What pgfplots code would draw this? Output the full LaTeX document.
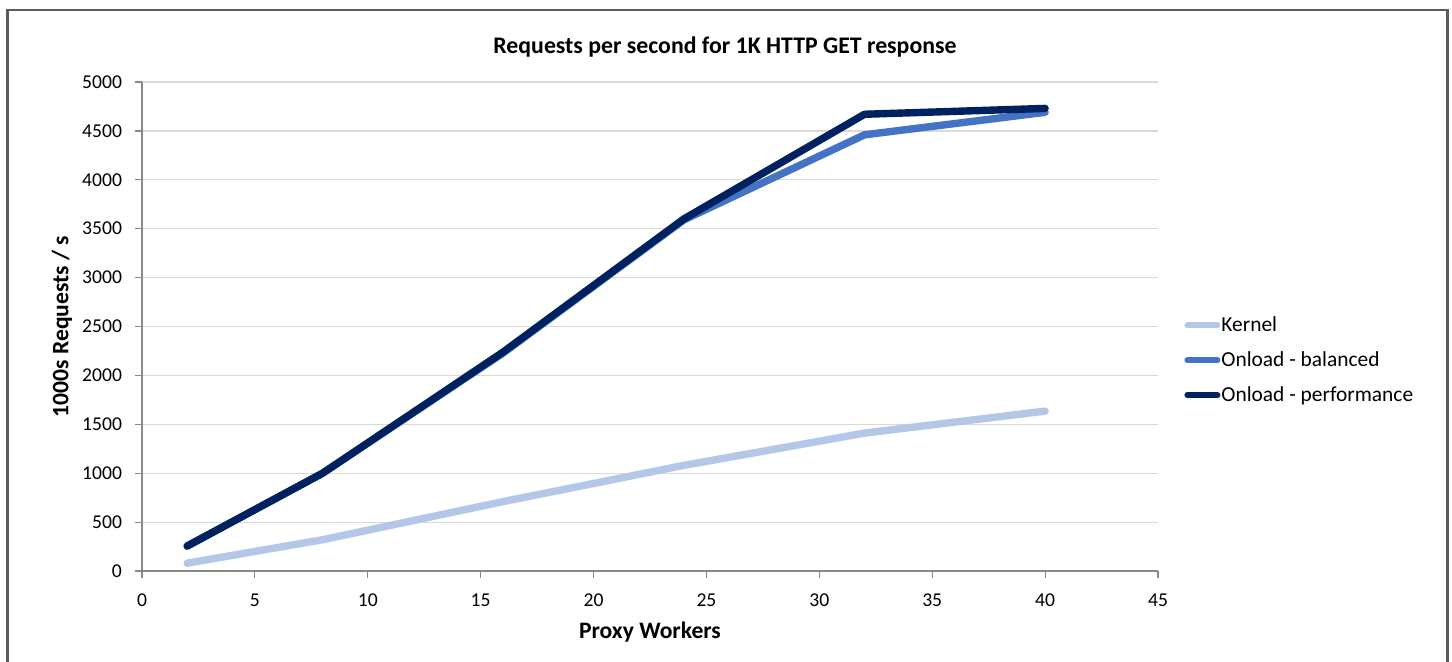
\documentclass[border=0pt]{standalone}
\usepackage{fontspec}
\setmainfont{Carlito}
\usepackage{pgfplots}
\pgfplotsset{compat=1.18}
\definecolor{kern}{HTML}{B4C7E7}
\definecolor{bal}{HTML}{4472C4}
\definecolor{perf}{HTML}{00215F}
\definecolor{axgray}{HTML}{888888}
\definecolor{gridgray}{HTML}{D9D9D9}
\definecolor{framegray}{HTML}{5A5A5A}
\begin{document}
\begin{tikzpicture}
\useasboundingbox (0,0) rectangle (726pt,330.5pt);
\begin{scope}
\clip (0,0) rectangle (726pt,330.5pt);
\draw[line width=1.1pt, color=framegray] (3.75pt,-10pt) rectangle (723.75pt,325.5pt);
\end{scope}
\begin{axis}[
  at={(71pt,45pt)}, anchor=south west,
  scale only axis, width=508pt, height=244.5pt,
  xmin=0, xmax=45, ymin=0, ymax=5000,
  xtick={0,5,...,45}, ytick={0,500,...,5000},
  axis lines=left, axis line style={color=axgray, line width=0.6pt, -},
  tick align=outside, major tick length=3.5pt,
  tick style={color=axgray, line width=0.6pt},
  ymajorgrids, grid style={color=gridgray, line width=0.6pt},
  /pgf/number format/1000 sep={},
  /pgf/number format/assume math mode=true,
  tick label style={font=\fontsize{9.8}{11}\selectfont, color=black},
  xticklabel style={yshift=-4.5pt},
  yticklabel style={xshift=-3pt},
  title={Requests per second for 1K HTTP GET response},
  title style={at={(0.5738,1)}, anchor=center, yshift=11.5pt, font=\fontsize{11.9}{13}\selectfont\bfseries},
  xlabel={Proxy Workers},
  xlabel style={at={(axis description cs:0.5,-0.1247)}, anchor=center, font=\fontsize{11.8}{13}\selectfont\bfseries},
  ylabel={1000s Requests / s},
  ylabel style={at={(axis description cs:-0.0787,0.5)}, anchor=center, font=\fontsize{11.8}{13}\selectfont\bfseries},
  legend style={draw=none, fill=none, at={(1,0.431)}, anchor=west, xshift=13pt,
    font=\fontsize{10.7}{12}\selectfont, row sep=4.5pt, inner sep=0pt,
    nodes={inner xsep=0.5pt}},
  legend cell align=left,
  legend image code/.code={\draw[#1, line width=3pt, line cap=round] (0pt,0pt) -- (15pt,0pt);},
  clip=false,
]
\addplot[color=kern, line width=3.7pt, line cap=round, line join=round] coordinates {
  (2,80) (8,320) (16,710) (24,1080) (32,1410) (40,1635)};
\addlegendentry{Kernel}
\addplot[color=bal, line width=3.7pt, line cap=round, line join=round] coordinates {
  (2,255) (8,1000) (16,2230) (24,3590) (32,4460) (40,4690)};
\addlegendentry{Onload - balanced}
\addplot[color=perf, line width=3.7pt, line cap=round, line join=round] coordinates {
  (2,255) (8,1000) (16,2240) (24,3600) (32,4670) (40,4730)};
\addlegendentry{Onload - performance}
\end{axis}
\end{tikzpicture}
\end{document}
